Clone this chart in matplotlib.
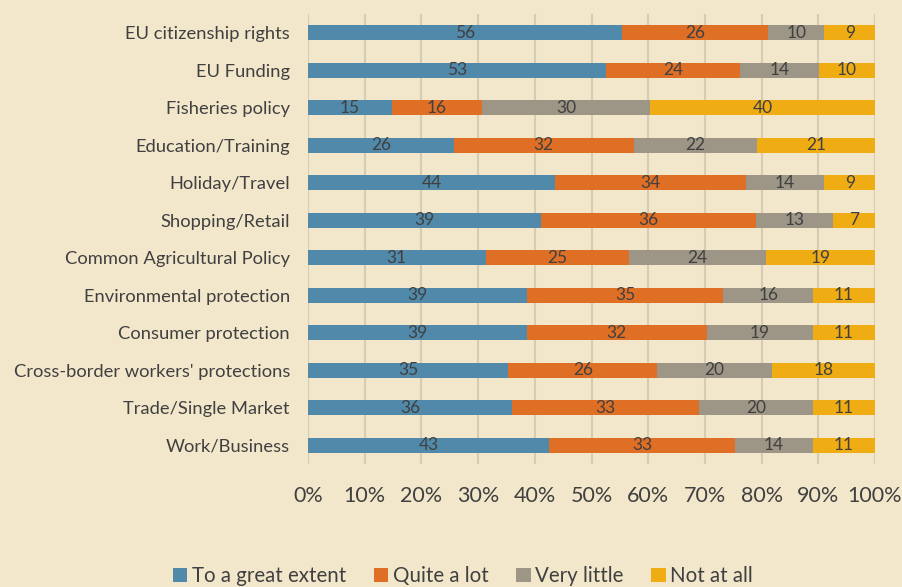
import matplotlib
matplotlib.use("Agg")
import matplotlib.pyplot as plt
import numpy as np

categories = ["EU citizenship rights", "EU Funding", "Fisheries policy", "Education/Training",
              "Holiday/Travel", "Shopping/Retail", "Common Agricultural Policy",
              "Environmental protection", "Consumer protection",
              "Cross-border workers' protections", "Trade/Single Market", "Work/Business"]
great = [56, 53, 15, 26, 44, 39, 31, 39, 39, 35, 36, 43]
quite = [26, 24, 16, 32, 34, 36, 25, 35, 32, 26, 33, 33]
little = [10, 14, 30, 22, 14, 13, 24, 16, 19, 20, 20, 14]
notatall = [9, 10, 40, 21, 9, 7, 19, 11, 11, 18, 11, 11]
series_names = ["To a great extent", "Quite a lot", "Very little", "Not at all"]
colors = ["#5189aa", "#e06f26", "#9d9585", "#efad13"]

plt.rcParams['font.family'] = ['Lato', 'DejaVu Sans']
bg = "#f2e7cb"
fig = plt.figure(figsize=(9.02, 5.87), dpi=100, facecolor=bg)
ax = fig.add_axes([308/902, 1-464/587, (875-308)/902, (464-14)/587])
ax.set_facecolor(bg)

data = np.array([great, quite, little, notatall], dtype=float)
totals = data.sum(axis=0)
pct = data / totals * 100
y = np.arange(len(categories))
left = np.zeros(len(categories))
for i in range(4):
    ax.barh(y, pct[i], left=left, height=0.4, color=colors[i], label=series_names[i], zorder=3)
    for j in range(len(categories)):
        ax.text(left[j] + pct[i][j]/2, y[j], str(int(data[i][j])), ha='center', va='center',
                fontsize=12.5, color="#404040", zorder=4)
    left += pct[i]

ax.set_ylim(len(categories)-0.5, -0.5)
ax.set_xlim(0, 100)
ax.set_yticks(y)
ax.set_yticklabels(categories, fontsize=13.2, color="#404040")
ax.set_xticks(np.arange(0, 101, 10))
ax.set_xticklabels([f"{v}%" for v in range(0, 101, 10)], fontsize=15.5, color="#404040")
ax.tick_params(axis='y', length=0, pad=13)
ax.tick_params(axis='x', length=0, pad=16)
for s in ax.spines.values():
    s.set_visible(False)
ax.grid(axis='x', color="#d5ccb3", linewidth=1.5, zorder=0)
ax.set_axisbelow(True)

handles, labels = ax.get_legend_handles_labels()
leg = fig.legend(handles, labels, loc='center', bbox_to_anchor=(463/902, 1-576/587), ncol=4,
                 frameon=False, fontsize=14.8, handlelength=0.7, handleheight=0.7,
                 handletextpad=0.22, columnspacing=1.35, labelcolor="#404040")
fig.savefig("out.png", dpi=100, facecolor=bg)
